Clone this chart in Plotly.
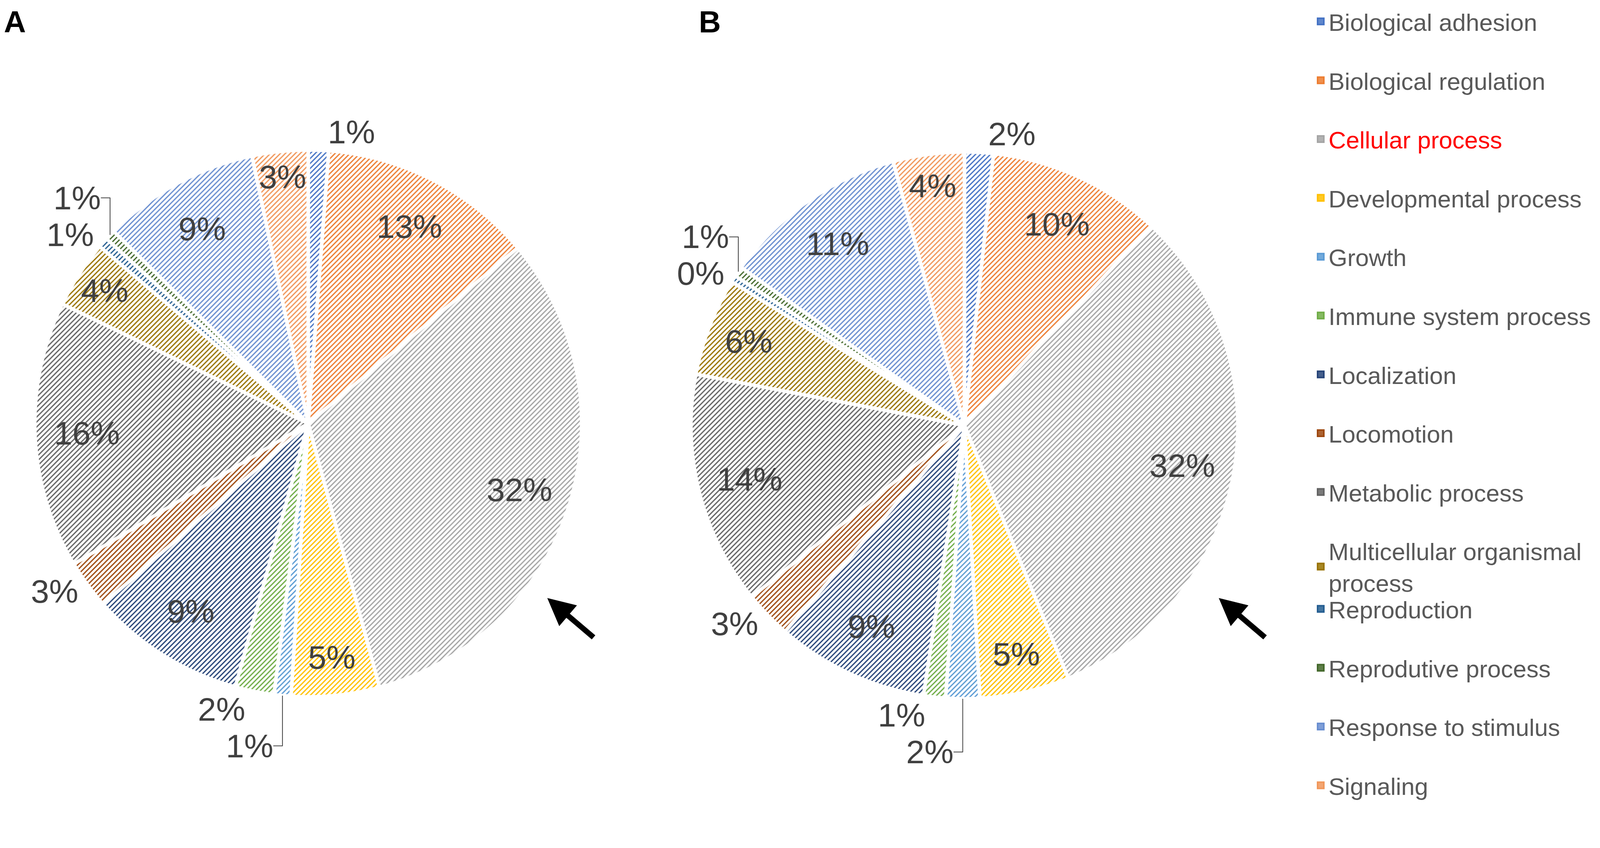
import plotly.graph_objects as go

# GO biological process categories (same order for both panels)
categories = [
    "Biological adhesion", "Biological regulation", "Cellular process",
    "Developmental process", "Growth", "Immune system process",
    "Localization", "Locomotion", "Metabolic process",
    "Multicellular organismal<br>process", "Reproduction",
    "Reprodutive process", "Response to stimulus", "Signaling",
]

# share of genes (%)
values_a = [1.2, 12.7, 31.9, 5.2, 1.0, 2.3, 9.2, 2.9, 15.8, 4.0, 0.6, 0.6, 9.3, 3.3]
values_b = [1.7, 10.3, 31.8, 5.3, 2.0, 1.3, 9.0, 2.8, 13.8, 5.8, 0.4, 0.6, 11.0, 4.2]

panel_labels = ["A", "B"]

# office-style palette
colors = ["#4472C4", "#ED7D31", "#A5A5A5", "#FFC000", "#5B9BD5", "#70AD47",
          "#264478", "#9E480E", "#636363", "#997300", "#255E91", "#43682B",
          "#698ED0", "#F1975A"]

W, H = 4080, 2050
FONT = "Arial, Liberation Sans, sans-serif"
TEXT_COLOR = "#404040"
LABEL_SIZE = 84


def tint(hex_color, amount):
    # blend a colour with white
    hex_color = hex_color.lstrip("#")
    r, g, b = (int(hex_color[i:i + 2], 16) for i in (0, 2, 4))
    r = int(r + (255 - r) * amount)
    g = int(g + (255 - g) * amount)
    b = int(b + (255 - b) * amount)
    return f"rgb({r},{g},{b})"


light = [tint(c, 0.78) for c in colors]


def slice_pie(values, domain):
    # the hatched slices themselves
    return go.Pie(
        labels=categories, values=values, sort=False,
        direction="clockwise", rotation=0, domain=domain,
        showlegend=False, textinfo="none",
        marker=dict(
            colors=light,
            line=dict(color="white", width=9),
            pattern=dict(shape="/", fgcolor=colors, size=9, solidity=0.36),
        ),
        hoverinfo="label+percent",
    )


def label_pie(values, domain):
    # transparent ring that carries the percentage labels near the rim
    positions = ["outside" if v < 3 else "inside" for v in values]
    return go.Pie(
        labels=categories, values=values, sort=False,
        direction="clockwise", rotation=0, domain=domain, hole=0.62,
        showlegend=False,
        texttemplate="%{percent:.0%}",
        textposition=positions,
        insidetextorientation="horizontal",
        insidetextfont=dict(size=LABEL_SIZE, color=TEXT_COLOR, family=FONT),
        outsidetextfont=dict(size=LABEL_SIZE, color=TEXT_COLOR, family=FONT),
        marker=dict(colors=["rgba(0,0,0,0)"] * len(values),
                    line=dict(width=0)),
        hoverinfo="skip",
    )


fig = go.Figure()

# pie centres and radius (px)
r = 700
for values, (cx, cy) in zip([values_a, values_b], [(781, 1076), (2461, 1081)]):
    dom = dict(
        x=[(cx - r) / W, (cx + r) / W],
        y=[(H - cy - r) / H, (H - cy + r) / H],
    )
    fig.add_trace(slice_pie(values, dom))
    fig.add_trace(label_pie(values, dom))

# legend entries: first ten in the top block, last four in a block at the bottom
for i, (name, c) in enumerate(zip(categories, colors)):
    label = name
    if name == "Cellular process":
        label = '<span style="color:#FF0000">Cellular process</span>'
    fig.add_trace(go.Scatter(
        x=[None], y=[None], mode="markers",
        marker=dict(symbol="square", size=16, color=tint(c, 0.15),
                    line=dict(color=c, width=4)),
        name=label, legendgroup=name, showlegend=True,
        legend="legend" if i < 10 else "legend2",
        hoverinfo="skip",
    ))
    if i == 9:
        # empty slot so the two-line entry above is not clipped
        fig.add_trace(go.Scatter(
            x=[None], y=[None], mode="markers",
            marker=dict(size=2, opacity=0, color="rgba(0,0,0,0)",
                        line=dict(width=0, color="rgba(0,0,0,0)")),
            name=" ", legendgroup="spacer",
            showlegend=True, legend="legend", hoverinfo="skip",
        ))

# panel letters
for letter, xpos in zip(panel_labels, [0.0, 1779 / W]):
    fig.add_annotation(
        text=f"<b>{letter}</b>", x=xpos, y=1.0, xref="paper", yref="paper",
        xanchor="left", yanchor="top", showarrow=False, yshift=-2,
        font=dict(size=78, color="black", family=FONT),
    )

# arrows pointing at the cellular process slice
for tip_x, tip_y in [(1393, 1523), (3112, 1523)]:
    fig.add_annotation(
        x=tip_x / W, y=1 - tip_y / H, xref="paper", yref="paper",
        ax=120, ay=102, text="", showarrow=True,
        arrowhead=2, arrowsize=1.0, arrowwidth=14, arrowcolor="black",
    )

legend_style = dict(
    x=3353 / W, xanchor="left", bgcolor="rgba(0,0,0,0)",
    font=dict(size=62, color="#595959", family=FONT),
    traceorder="grouped", tracegroupgap=67,
)

fig.update_layout(
    width=W, height=H,
    margin=dict(l=0, r=0, t=0, b=0),
    paper_bgcolor="white", plot_bgcolor="white",
    font=dict(family=FONT, color="#595959"),
    xaxis=dict(visible=False), yaxis=dict(visible=False),
    uniformtext=dict(minsize=LABEL_SIZE, mode="show"),
    legend=dict(y=1.0, yanchor="top", **legend_style),
    legend2=dict(y=0.0, yanchor="bottom", **legend_style),
)

fig.write_html("out.html")
